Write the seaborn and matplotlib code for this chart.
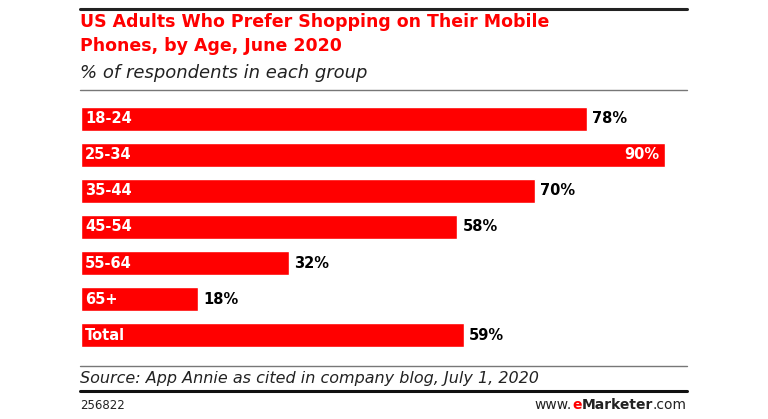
import matplotlib
matplotlib.use("Agg")
import matplotlib.pyplot as plt
import seaborn as sns
import pandas as pd

# datos
ages = ["18-24", "25-34", "35-44", "45-54", "55-64", "65+", "Total"]
pct = [78, 90, 70, 58, 32, 18, 59]

title = "US Adults Who Prefer Shopping on Their Mobile\nPhones, by Age, June 2020"
subtitle = "% of respondents in each group"
source = "Source: App Annie as cited in company blog, July 1, 2020"
chart_id = "256822"

df = pd.DataFrame({"age": ages, "pct": pct})

sns.set_style("white")
plt.rcParams["font.family"] = ["DejaVu Sans"]

RED = "#ff0000"
fig = plt.figure(figsize=(7.68, 4.19), dpi=100)
ax = fig.add_axes([81 / 768, 1 - 353 / 419, (687 - 81) / 768, 252 / 419])

sns.barplot(data=df, x="pct", y="age", orient="h", color=RED, width=0.67,
            saturation=1, ax=ax)
ax.set_xlim(0, 93.4)
ax.set_ylim(6.5, -0.5)
ax.axis("off")

for i, (a, v) in enumerate(zip(ages, pct)):
    ax.text(0.6, i, a, color="white", fontweight="bold", fontsize=10.5,
            va="center", ha="left")
    if v >= 85:
        ax.text(v - 0.8, i, f"{v}%", color="white", fontweight="bold",
                fontsize=10.5, va="center", ha="right")
    else:
        ax.text(v + 0.8, i, f"{v}%", color="black", fontweight="bold",
                fontsize=10.5, va="center", ha="left")

# lineas y textos de cabecera / pie
x0, x1 = 80 / 768, 687 / 768
def hline(ypix, lw, color):
    fig.add_artist(plt.Line2D([x0, x1], [1 - ypix / 419] * 2, lw=lw, color=color))

hline(9, 2.2, "#222222")
hline(90, 1.0, "#777777")
hline(366, 1.0, "#777777")
hline(391, 2.2, "#111111")

fig.text(x0, 1 - 34 / 419, title, color=RED, fontweight="bold", fontsize=12.5,
         va="center", ha="left", linespacing=1.4)
fig.text(x0, 1 - 73 / 419, subtitle, style="italic", fontsize=13,
         color="#222222", va="center", ha="left")
fig.text(x0, 1 - 378 / 419, source, style="italic", fontsize=11.5,
         color="#222222", va="center", ha="left")
fig.text(x0, 1 - 405 / 419, chart_id, fontsize=8.5, color="#222222",
         va="center", ha="left")

# www.eMarketer.com, de derecha a izquierda
r = fig.canvas.get_renderer()
yf = 1 - 405 / 419
xr = x1
for txt, col, fw in [(".com", "#222222", "normal"), ("Marketer", "#222222", "bold"),
                     ("e", RED, "bold"), ("www.", "#222222", "normal")]:
    t = fig.text(xr, yf, txt, fontsize=10, color=col, fontweight=fw,
                 va="center", ha="right")
    w = t.get_window_extent(renderer=r).width
    xr -= w / fig.bbox.width

fig.savefig("out.png", dpi=100)
